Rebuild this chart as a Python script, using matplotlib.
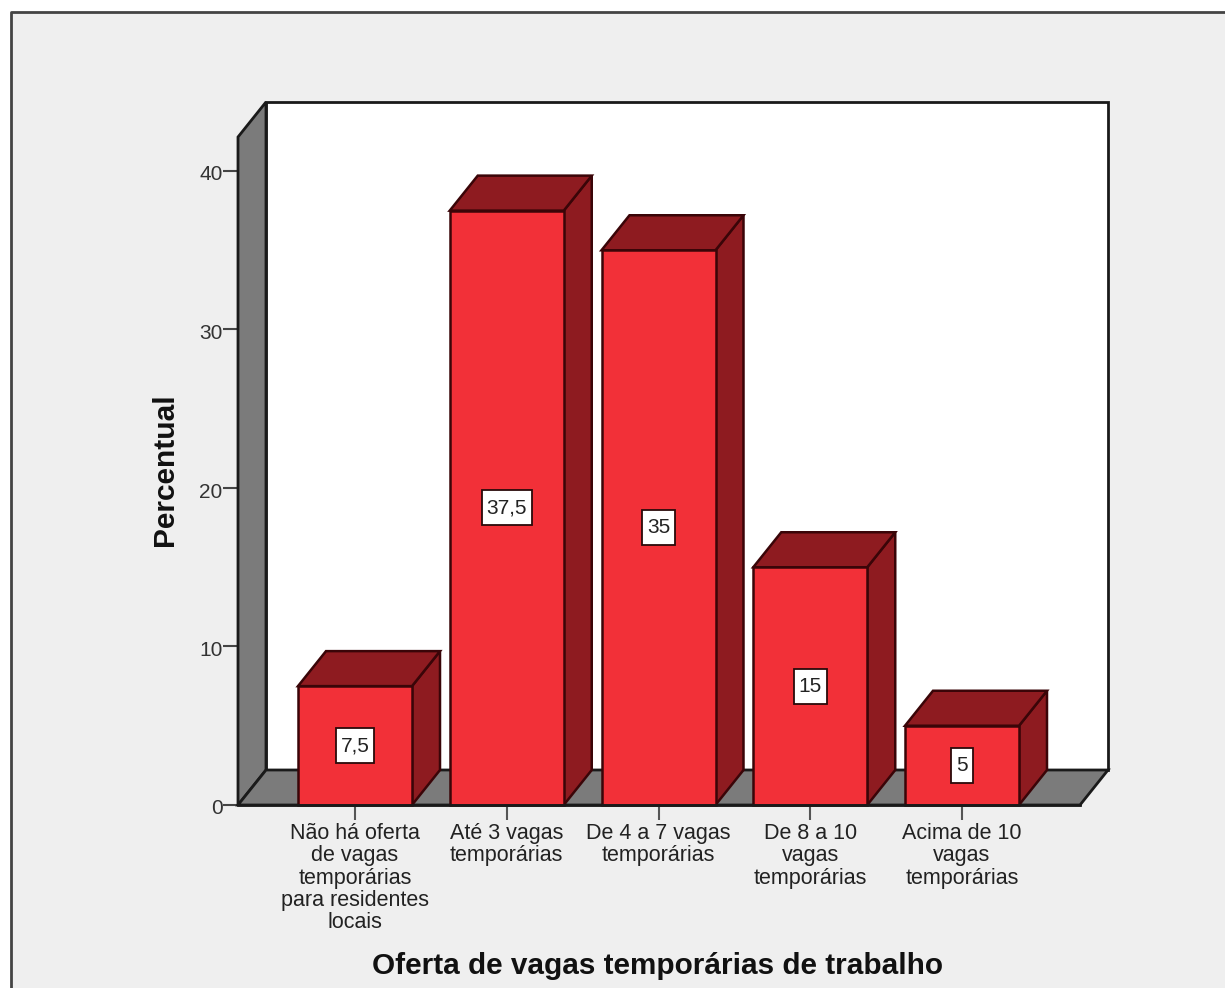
import matplotlib
matplotlib.use('Agg')
import matplotlib.pyplot as plt
from matplotlib.patches import Polygon, Rectangle
from matplotlib.transforms import ScaledTranslation

categories = ['Não há oferta\nde vagas\ntemporárias\npara residentes\nlocais',
              'Até 3 vagas\ntemporárias',
              'De 4 a 7 vagas\ntemporárias',
              'De 8 a 10\nvagas\ntemporárias',
              'Acima de 10\nvagas\ntemporárias']
values = [7.5, 37.5, 35, 15, 5]
value_labels = ['7,5', '37,5', '35', '15', '5']
yticks = [0, 10, 20, 30, 40]

W, H = 1225, 988
plt.rcParams['font.family'] = ['Liberation Sans', 'DejaVu Sans']

fig = plt.figure(figsize=(W / 100, H / 100), dpi=100, facecolor='white')

# grey panel with its frame, open to the right and bottom
fig.add_artist(Rectangle((10.5 / W, 0), 1 - 10.5 / W, 1 - 12 / H, transform=fig.transFigure,
                         fc='#efefef', ec='none', zorder=-5))
fig.add_artist(plt.Line2D([10.5 / W, 10.5 / W, 1], [0, 1 - 12 / H, 1 - 12 / H], color='#444444', lw=2, zorder=-4))

# front plane of the box: 238..1080 px across, 805..137 px down
sx = 151.75
sy = 15.85
ax = fig.add_axes([238 / W, 1 - 805 / H, 842 / W, 668 / H])
ax.set_xlim((238 - 355) / sx, (1080 - 355) / sx)
ax.set_ylim(0, 668 / sy)
ax.patch.set_visible(False)
for s in ax.spines.values():
    s.set_visible(False)

# depth of the 3d effect in data units
dx = 28 / sx
dy = 35 / sy
x0, x1 = ax.get_xlim()
y0, y1 = ax.get_ylim()
edge = '#1a1a1a'

ax.add_patch(Rectangle((x0 + dx, y0 + dy), x1 - x0, y1 - y0, fc='white', ec=edge, lw=2, clip_on=False, zorder=1))
ax.add_patch(Polygon([(x0, y0), (x0 + dx, y0 + dy), (x0 + dx, y1 + dy), (x0, y1)],
                     fc='#7b7b7b', ec=edge, lw=2, clip_on=False, zorder=2))
ax.add_patch(Polygon([(x0, y0), (x0 + dx, y0 + dy), (x1 + dx, y0 + dy), (x1, y0)],
                     fc='#7b7b7b', ec=edge, lw=2, clip_on=False, zorder=2))

renderer = fig.canvas.get_renderer()
w = 114 / sx
for i, v in enumerate(values):
    l, r = i - w / 2, i + w / 2
    z = 3 + i
    ax.add_patch(Polygon([(r, 0), (r + dx, dy), (r + dx, v + dy), (r, v)],
                         fc='#8e1b20', ec='#3a0508', lw=1.8, clip_on=False, zorder=z))
    ax.add_patch(Polygon([(l, v), (l + dx, v + dy), (r + dx, v + dy), (r, v)],
                         fc='#8e1b20', ec='#3a0508', lw=1.8, clip_on=False, zorder=z))
    ax.add_patch(Rectangle((l, 0), w, v, fc='#f23038', ec='#3a0508', lw=1.8, clip_on=False, zorder=z))
    t = ax.text(i, v / 2, value_labels[i], ha='center', va='center', fontsize=15, color='#222222', zorder=21)
    # label box is taller than a uniform pad would give
    bw = (t.get_window_extent(renderer).width + 10) / sx
    bh = 35 / sy
    ax.add_patch(Rectangle((i - bw / 2, v / 2 - bh / 2), bw, bh, fc='white', ec='#2a0a0a', lw=1.3,
                           clip_on=False, zorder=20))

ax.plot([x0, x1], [0, 0], color=edge, lw=2, zorder=10, clip_on=False)

ax.set_yticks(yticks)
ax.set_xticks(range(len(categories)))
ax.set_xticklabels(categories, fontsize=15.5, color='#222222', linespacing=1.07)
ax.tick_params(axis='y', length=11, width=1.5, color='#444444', labelsize=15, labelcolor='#333333', pad=0)
ax.tick_params(axis='x', length=11, width=1.5, color='#555555', pad=2.2)

# y labels sit slightly below their ticks in the original
shift = ScaledTranslation(0, -2 / 100, fig.dpi_scale_trans)
for lab in ax.get_yticklabels():
    lab.set_transform(lab.get_transform() + shift)

fig.text(165 / W, 1 - 470 / H, 'Percentual', rotation=90, ha='center', va='center',
         fontsize=21.5, fontweight='bold', color='#111111')
fig.text(658 / W, 1 - 966 / H, 'Oferta de vagas temporárias de trabalho', ha='center', va='center',
         fontsize=21.4, fontweight='bold', color='#111111')

fig.savefig('out.png', dpi=100, facecolor=fig.get_facecolor())
